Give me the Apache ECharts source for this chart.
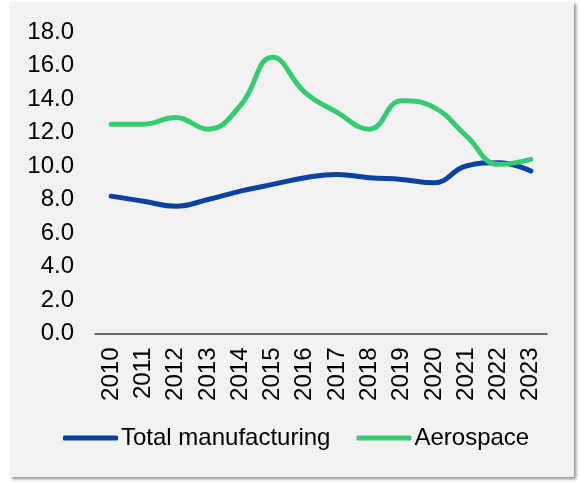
<!DOCTYPE html>
<html>
<head>
<meta charset="utf-8">
<script src="https://cdn.jsdelivr.net/npm/echarts@6/dist/echarts.min.js"></script>
<style>
  html, body { margin: 0; padding: 0; background: #ffffff; }
  body { width: 579px; height: 482px; position: relative; overflow: hidden; }
  #panel {
    position: absolute; left: 10px; top: 2px; width: 564px; height: 475px;
    background: #f2f2f2; box-shadow: 2px 2px 3px rgba(0,0,0,0.45);
  }
  #chart { position: absolute; left: 0; top: 0; width: 579px; height: 482px; }
</style>
</head>
<body>
<div id="panel"></div>
<div id="chart"></div>
<script>
// Years on the horizontal axis
const years = ['2010', '2011', '2012', '2013', '2014', '2015', '2016',
               '2017', '2018', '2019', '2020', '2021', '2022', '2023'];
// Total manufacturing share
const totalManufacturing = [8.2, 7.9, 7.6, 8.0, 8.5, 8.9, 9.3, 9.5, 9.3, 9.2, 9.0, 10.0, 10.2, 9.7];
// Aerospace share
const aerospace = [12.5, 12.5, 12.9, 12.2, 13.6, 16.5, 14.4, 13.2, 12.2, 13.9, 13.5, 11.8, 10.1, 10.4];

const FONT = 'Liberation Sans, Arial, sans-serif';
const BLUE = '#0b41a0';
const GREEN = '#35cb70';

const chart = echarts.init(document.getElementById('chart'), null, { renderer: 'canvas' });
chart.setOption({
  backgroundColor: 'transparent',
  animation: false,
  grid: { left: 95, right: 32, top: 32, bottom: 148.5, containLabel: false },
  legend: {
    left: 63, top: 426, padding: 0,
    itemWidth: 55, itemHeight: 5, itemGap: 26,
    icon: 'roundRect',
    textStyle: { fontFamily: FONT, fontSize: 24, color: '#000', padding: [0, 0, 0, -2] },
    data: ['Total manufacturing', 'Aerospace']
  },
  xAxis: {
    type: 'category',
    data: years,
    boundaryGap: true,
    axisLine: { lineStyle: { color: '#3a3a3a', width: 1.5 } },
    axisTick: { show: false },
    axisLabel: { rotate: 90, margin: 14, fontFamily: FONT, fontSize: 24, color: '#000' }
  },
  yAxis: {
    type: 'value',
    min: 0, max: 18, interval: 2,
    axisLine: { show: false },
    axisTick: { show: false },
    splitLine: { show: false },
    axisLabel: {
      margin: 21, fontFamily: FONT, fontSize: 24, color: '#000',
      formatter: v => v.toFixed(1)
    }
  },
  series: [
    {
      name: 'Total manufacturing', type: 'line', data: totalManufacturing,
      smooth: 0.45, symbol: 'none', color: BLUE,
      lineStyle: { width: 5, color: BLUE, cap: 'round', join: 'round' }
    },
    {
      name: 'Aerospace', type: 'line', data: aerospace,
      smooth: 0.45, symbol: 'none', color: GREEN,
      lineStyle: { width: 5, color: GREEN, cap: 'round', join: 'round' }
    }
  ]
});
</script>
</body>
</html>
